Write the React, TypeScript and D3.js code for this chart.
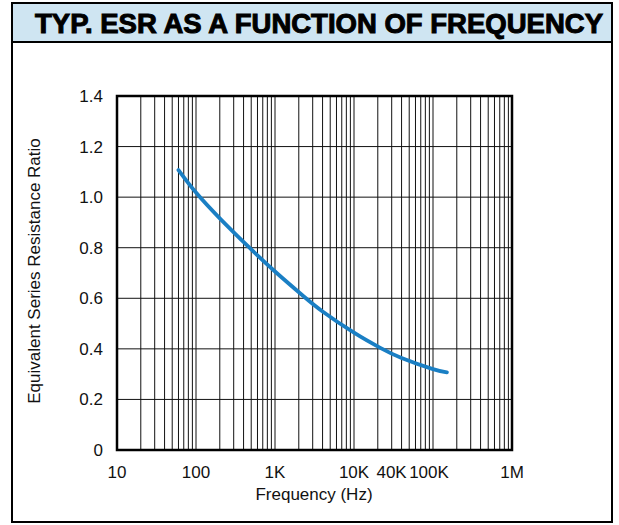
import * as d3 from "d3";

// ── Data ──────────────────────────────────────────────────────────────────────

const TITLE = "TYP. ESR AS A FUNCTION OF FREQUENCY";
const X_LABEL = "Frequency (Hz)";
const Y_LABEL = "Equivalent Series Resistance Ratio";

// ESR ratio
const FREQ = [60, 100, 200, 450, 1000, 2300, 4000, 10000, 21500, 40000, 100000, 150000];
const ESR = [1.107, 1.018, 0.916, 0.807, 0.706, 0.608, 0.548, 0.464, 0.404, 0.364, 0.32, 0.307];

const X_TICKS = [10, 100, 1e3, 1e4, 4e4, 1e5, 1e6];
const X_TICK_LABELS = ["10", "100", "1K", "10K", "40K", "100K", "1M"];
const X_TICK_NUDGE = [0, 0, 0, 0, -10, -4, 0];
const Y_TICKS = [0, 0.2, 0.4, 0.6, 0.8, 1.0, 1.2, 1.4];
const Y_TICK_LABELS = ["0", "0.2", "0.4", "0.6", "0.8", "1.0", "1.2", "1.4"];

// ── Layout ────────────────────────────────────────────────────────────────────

const W = 619;
const H = 525;
const PLOT = { left: 117, right: 512, top: 96, bottom: 450 };
const FONT = "'Liberation Sans', Arial, sans-serif";

export default function App() {
  const x = d3.scaleLog().domain([10, 1e6]).range([PLOT.left, PLOT.right]);
  const y = d3.scaleLinear().domain([0, 1.4]).range([PLOT.bottom, PLOT.top]);

  // minor + major decade gridlines
  const vGrid: number[] = [];
  for (let e = 1; e < 6; e++) {
    for (let m = 1; m <= 9; m++) vGrid.push(m * 10 ** e);
  }
  vGrid.push(1e6);

  const line = d3
    .line<number>()
    .x((_, i) => x(FREQ[i]))
    .y((d) => y(d))
    .curve(d3.curveNatural);

  return (
    <svg
      width={W}
      height={H}
      style={{ position: "absolute", left: 0, top: 0, background: "#fff" }}
      fontFamily={FONT}
    >
      {/* Outer box + title band */}
      <rect x={12} y={42} width={600} height={480} fill="#fff" stroke="#000" strokeWidth={2} />
      <rect x={12} y={3} width={600} height={39} fill="#cfe5f2" stroke="#000" strokeWidth={2} />
      <text
        x={319}
        y={32.5}
        textAnchor="middle"
        fontSize={27}
        fontWeight={900}
        fill="#000"
        stroke="#000"
        strokeWidth={1}
        textLength={568}
        lengthAdjust="spacingAndGlyphs"
      >
        {TITLE}
      </text>

      {/* Grid */}
      {vGrid.map((f) => (
        <line
          key={`v${f}`}
          x1={x(f)}
          x2={x(f)}
          y1={PLOT.top}
          y2={PLOT.bottom}
          stroke="#111"
          strokeWidth={1}
        />
      ))}
      {Y_TICKS.map((v) => (
        <line
          key={`h${v}`}
          x1={PLOT.left}
          x2={PLOT.right}
          y1={y(v)}
          y2={y(v)}
          stroke="#111"
          strokeWidth={1}
        />
      ))}

      {/* Plot frame */}
      <rect
        x={PLOT.left}
        y={PLOT.top}
        width={PLOT.right - PLOT.left}
        height={PLOT.bottom - PLOT.top}
        fill="none"
        stroke="#000"
        strokeWidth={2.5}
      />

      {/* ESR curve */}
      <path
        d={line(ESR) ?? ""}
        fill="none"
        stroke="#1a7fc4"
        strokeWidth={3.8}
        strokeLinecap="round"
      />

      {/* Y tick labels */}
      {Y_TICKS.map((v, i) => (
        <text key={`yl${v}`} x={103} y={y(v) + 6} textAnchor="end" fontSize={17} fill="#111">
          {Y_TICK_LABELS[i]}
        </text>
      ))}

      {/* X tick labels */}
      {X_TICKS.map((f, i) => (
        <text
          key={`xl${f}`}
          x={x(f) + X_TICK_NUDGE[i]}
          y={478}
          textAnchor="middle"
          fontSize={17}
          fill="#111"
        >
          {X_TICK_LABELS[i]}
        </text>
      ))}

      {/* Axis titles */}
      <text x={314} y={500} textAnchor="middle" fontSize={17} fill="#111">
        {X_LABEL}
      </text>
      <text
        transform={`translate(40,${(PLOT.top + PLOT.bottom) / 2 - 2}) rotate(-90)`}
        textAnchor="middle"
        fontSize={17}
        fill="#111"
      >
        {Y_LABEL}
      </text>
    </svg>
  );
}
